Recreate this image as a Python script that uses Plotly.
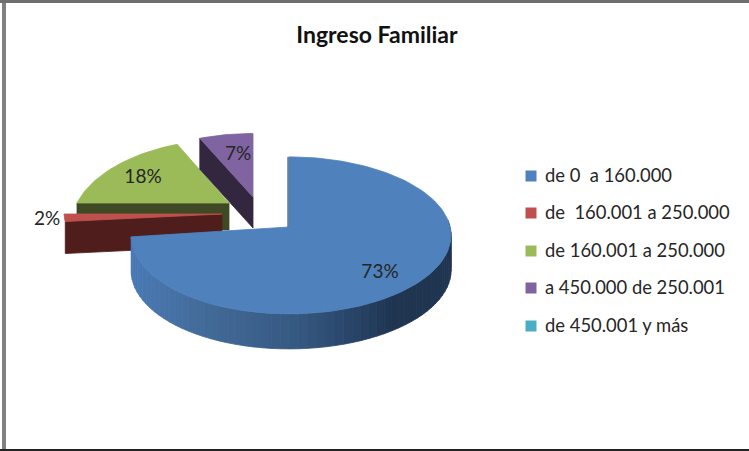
import math
import plotly.graph_objects as go

# --- data ---
title = "Ingreso Familiar"
categories = ["de 0\u00a0 a 160.000", "de \u00a0160.001 a 250.000", "de 160.001 a 250.000",
              "a 450.000 de 250.001", "de 450.001 y más"]
values = [73, 2, 18, 7, 0]

# --- style ---
W, H = 749, 451
top_colors = ["#4f81bd", "#c0504d", "#9bbb59", "#8064a2", "#4bacc6"]
wall_colors = [None, "#4f1e1c", "#3f4a24", "#33273f", None]
# slice projection: apex x, apex y, x radius, y radius, perspective, depth, left/right skew
geometry = [
    (289, 227, 159, 77.6, 0.107, 35, 0.013),
    (222, 214, 158, 60, 0.0, 32, 0),
    (229, 203, 152, 81, 0.275, 27, 0),
    (253, 197, 156, 81, 0.275, 31, 0),
    (0, 0, 0, 0, 0, 0, 0),
]
label_xy = [(380, 273), (47, 220), (143, 178), (238, 155), None]
legend_y = [176, 213, 251, 288, 326]
wall_stops = [(131, (74, 122, 182)), (200, (68, 108, 155)), (300, (54, 88, 128)),
              (345, (42, 72, 108)), (395, (31, 53, 80)), (451, (31, 53, 80))]


def project(i, deg):
    ax, ay, rx, ry, k, _, skew = geometry[i]
    t = math.radians(deg)
    u, v = math.sin(t), math.cos(t)
    s = 1 / (1 + k * v)
    return ax + rx * u * s * (1 + skew * u), ay - ry * v * s


def arc(i, a, b, step=2.0):
    n = max(2, int(abs(b - a) / step) + 1)
    return [project(i, a + (b - a) * j / n) for j in range(n + 1)]


def poly(fig, pts, color, line=None):
    xs = [p[0] for p in pts] + [pts[0][0]]
    ys = [p[1] for p in pts] + [pts[0][1]]
    fig.add_trace(go.Scatter(x=xs, y=ys, mode="lines", fill="toself", fillcolor=color,
                             line=dict(color=line or color, width=0.8),
                             hoverinfo="skip", showlegend=False))


def wall_color(x):
    for (x0, c0), (x1, c1) in zip(wall_stops, wall_stops[1:]):
        if x <= x1:
            f = max(0, (x - x0) / (x1 - x0))
            return "rgb(%d,%d,%d)" % tuple(c0[j] + (c1[j] - c0[j]) * f for j in range(3))
    return "rgb(%d,%d,%d)" % wall_stops[-1][1]


fig = go.Figure()

# angles from the values, clockwise from 12 o'clock
total = sum(values)
starts, ends = [], []
acc = 0
for v in values:
    starts.append(acc / total * 360)
    acc += v
    ends.append(acc / total * 360)

# exploded slices, back to front: green, purple, red
for i in (2, 3, 1):
    a, b = starts[i], ends[i]
    d = geometry[i][5]
    p0 = project(i, a)
    apex = geometry[i][:2]
    poly(fig, [p0, apex, (apex[0], apex[1] + d), (p0[0], p0[1] + d)], wall_colors[i])
    poly(fig, [apex] + arc(i, a, b), top_colors[i])

# blue wall, split so the shading can change along it
i = 0
a, b = starts[i], ends[i]
d = geometry[i][5]
rim = arc(i, b, 85, step=3.0)
for p, q in zip(rim, rim[1:]):
    poly(fig, [p, q, (q[0], q[1] + d), (p[0], p[1] + d)], wall_color((p[0] + q[0]) / 2))
apex = geometry[i][:2]
poly(fig, [apex] + arc(i, a, b), top_colors[i])
top_pt = project(i, a)
fig.add_trace(go.Scatter(x=[top_pt[0] - 1, apex[0] - 1], y=[top_pt[1], apex[1]], mode="lines",
                         line=dict(color="#1f3550", width=1), hoverinfo="skip", showlegend=False))

# percent labels
lx = [p[0] for p in label_xy if p]
ly = [p[1] for p in label_xy if p]
lt = [f"{v}%" for v, p in zip(values, label_xy) if p]
fig.add_trace(go.Scatter(x=lx, y=ly, mode="text", text=lt, textposition="middle center",
                         textfont=dict(family="Lato", size=19, color="#262626"),
                         hoverinfo="skip", showlegend=False))

# legend entries
for c, col, y in zip(categories, top_colors, legend_y):
    fig.add_trace(go.Scatter(x=[531], y=[y], mode="markers", name=c,
                             marker=dict(symbol="square", size=11, color=col),
                             hoverinfo="skip", showlegend=False))
    fig.add_trace(go.Scatter(x=[545], y=[y + 1], mode="text", text=[c], textposition="middle right",
                             textfont=dict(family="Lato", size=18.4, color="#262626"),
                             hoverinfo="skip", showlegend=False))

shapes = [
    dict(type="rect", xref="paper", yref="paper", x0=2 / W, x1=6 / W, y0=0, y1=1,
         fillcolor="#808080", line_width=0),
    dict(type="rect", xref="paper", yref="paper", x0=0, x1=1, y0=1 - 3 / H, y1=1,
         fillcolor="#6e6e6e", line_width=0),
    dict(type="rect", xref="paper", yref="paper", x0=0, x1=1, y0=0, y1=2 / H,
         fillcolor="#222222", line_width=0),
]

fig.update_layout(
    width=W, height=H, margin=dict(l=0, r=0, t=0, b=0),
    paper_bgcolor="white", plot_bgcolor="white",
    xaxis=dict(range=[0, W], visible=False, fixedrange=True),
    yaxis=dict(range=[H, 0], visible=False, fixedrange=True),
    shapes=shapes,
    title=dict(text=f"<b>{title}</b>", x=377 / W, xanchor="center", y=1 - 35 / H, yanchor="middle",
               font=dict(family="Lato", size=23, color="#111111")),
    showlegend=False,
)
fig.write_html("out.html", config={"displayModeBar": False},
               post_script="document.body.style.margin='0';document.body.style.overflow='hidden';")
